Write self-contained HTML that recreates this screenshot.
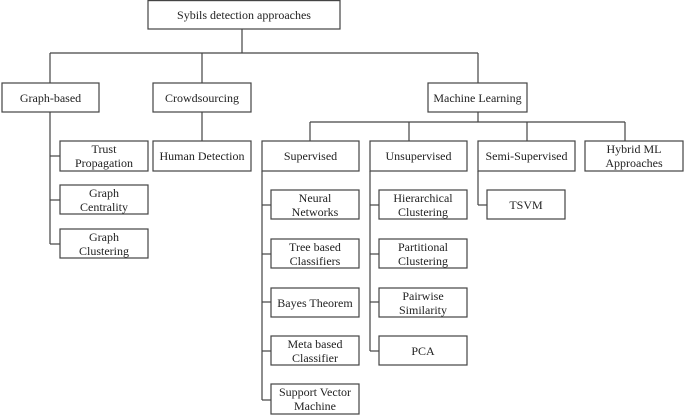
<!DOCTYPE html>
<html><head><meta charset="utf-8"><style>
html,body{margin:0;padding:0;background:#fff;}
svg{display:block;}
text{font-family:"Liberation Serif",serif;font-size:12px;fill:#222;text-anchor:middle;}
rect{fill:#fff;stroke:#444;stroke-width:1.2;}
line{stroke:#444;stroke-width:1.2;}
</style></head><body>
<svg width="685" height="416" viewBox="0 0 685 416" xmlns="http://www.w3.org/2000/svg">
<!-- connectors -->
<line x1="242" y1="29" x2="242" y2="53"/>
<line x1="50" y1="53" x2="478" y2="53"/>
<line x1="50" y1="53" x2="50" y2="83"/>
<line x1="202" y1="53" x2="202" y2="83"/>
<line x1="478" y1="53" x2="478" y2="83"/>
<line x1="202" y1="112" x2="202" y2="141"/>
<line x1="50" y1="112" x2="50" y2="244"/>
<line x1="50" y1="156" x2="60" y2="156"/>
<line x1="50" y1="200" x2="60" y2="200"/>
<line x1="50" y1="244" x2="60" y2="244"/>
<line x1="478" y1="112" x2="478" y2="122"/>
<line x1="310" y1="122" x2="625" y2="122"/>
<line x1="310" y1="122" x2="310" y2="141"/>
<line x1="409" y1="122" x2="409" y2="141"/>
<line x1="527" y1="122" x2="527" y2="141"/>
<line x1="625" y1="122" x2="625" y2="141"/>
<line x1="262" y1="171" x2="262" y2="400"/>
<line x1="262" y1="205" x2="271" y2="205"/>
<line x1="262" y1="254" x2="271" y2="254"/>
<line x1="262" y1="302" x2="271" y2="302"/>
<line x1="262" y1="351" x2="271" y2="351"/>
<line x1="262" y1="400" x2="271" y2="400"/>
<line x1="370" y1="171" x2="370" y2="351"/>
<line x1="370" y1="205" x2="379" y2="205"/>
<line x1="370" y1="254" x2="379" y2="254"/>
<line x1="370" y1="302" x2="379" y2="302"/>
<line x1="370" y1="351" x2="379" y2="351"/>
<line x1="478" y1="171" x2="478" y2="205"/>
<line x1="478" y1="205" x2="487" y2="205"/>
<!-- boxes -->
<rect x="148" y="0.6" width="192" height="28.4"/><text x="244" y="19">Sybils detection approaches</text>
<rect x="2" y="83" width="97" height="29"/><text x="50.5" y="102">Graph-based</text>
<rect x="153" y="83" width="98" height="29"/><text x="202" y="102">Crowdsourcing</text>
<rect x="428" y="83" width="99" height="29"/><text x="477.5" y="102">Machine Learning</text>
<rect x="60" y="141" width="88" height="30"/><text x="104" y="153">Trust</text><text x="104" y="167">Propagation</text>
<rect x="60" y="185" width="88" height="29"/><text x="104" y="197">Graph</text><text x="104" y="211">Centrality</text>
<rect x="60" y="229" width="88" height="29"/><text x="104" y="241">Graph</text><text x="104" y="255">Clustering</text>
<rect x="153" y="141" width="98" height="30"/><text x="202" y="160">Human Detection</text>
<rect x="262" y="141" width="97" height="30"/><text x="310.5" y="160">Supervised</text>
<rect x="370" y="141" width="97" height="30"/><text x="418.5" y="160">Unsupervised</text>
<rect x="478" y="141" width="97" height="30"/><text x="526.5" y="160">Semi-Supervised</text>
<rect x="585" y="141" width="98" height="30"/><text x="634" y="153">Hybrid ML</text><text x="634" y="167">Approaches</text>
<rect x="271" y="190" width="88" height="29"/><text x="315" y="202">Neural</text><text x="315" y="216">Networks</text>
<rect x="271" y="239" width="88" height="29"/><text x="315" y="251">Tree based</text><text x="315" y="265">Classifiers</text>
<rect x="271" y="288" width="88" height="29"/><text x="315" y="307">Bayes Theorem</text>
<rect x="271" y="336" width="88" height="29"/><text x="315" y="348">Meta based</text><text x="315" y="362">Classifier</text>
<rect x="271" y="384" width="88" height="30"/><text x="315" y="396">Support Vector</text><text x="315" y="410">Machine</text>
<rect x="379" y="190" width="88" height="29"/><text x="423" y="202">Hierarchical</text><text x="423" y="216">Clustering</text>
<rect x="379" y="239" width="88" height="29"/><text x="423" y="251">Partitional</text><text x="423" y="265">Clustering</text>
<rect x="379" y="288" width="88" height="29"/><text x="423" y="300">Pairwise</text><text x="423" y="314">Similarity</text>
<rect x="379" y="336" width="88" height="29"/><text x="423" y="355">PCA</text>
<rect x="487" y="190" width="78" height="29"/><text x="526" y="209">TSVM</text>
</svg>
</body></html>
